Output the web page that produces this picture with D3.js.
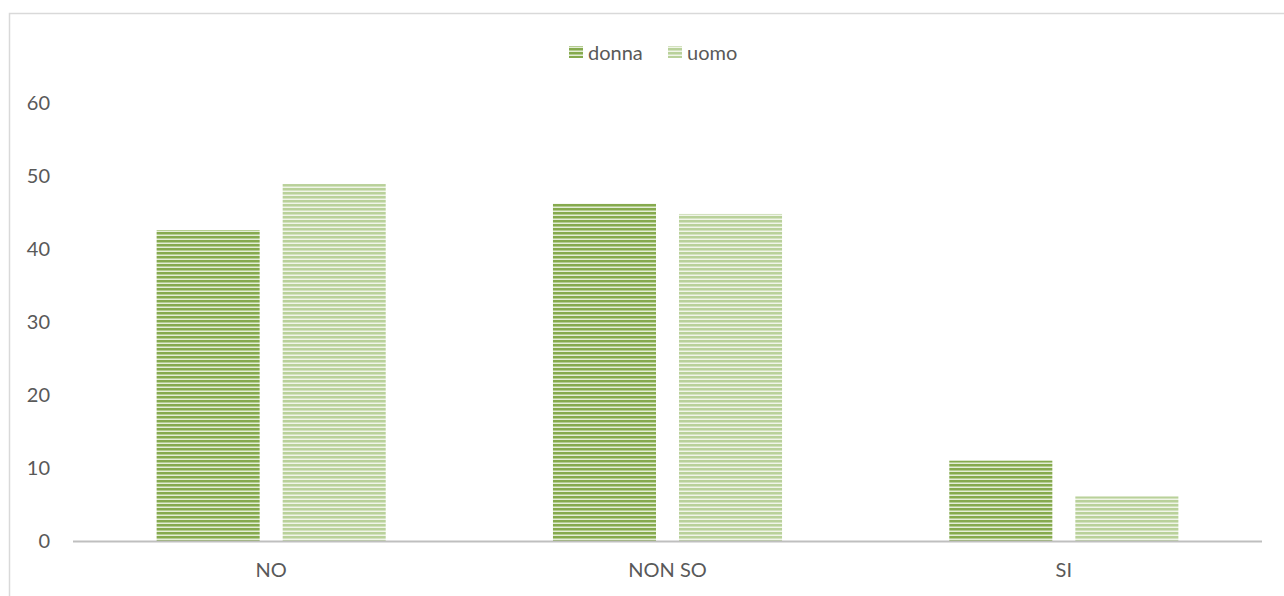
<!DOCTYPE html>
<html><head><meta charset="utf-8">
<script src="https://cdn.jsdelivr.net/npm/d3@7"></script>
<style>body{margin:0;background:#fff}svg{display:block}text{font-family:Lato,"Open Sans",sans-serif;fill:#595959}</style>
</head><body><svg id="c" width="1284" height="596"></svg>
<script>
const categories = ["NO", "NON SO", "SI"];
const seriesNames = ["donna", "uomo"];
const donna = [42.6, 46.2, 11.0];
const uomo = [48.9, 44.8, 6.1];
const yTicks = [0, 10, 20, 30, 40, 50, 60];

const svg = d3.select("#c");
const defs = svg.append("defs");
function mkPattern(id, dark, mid, light) {
  const p = defs.append("pattern").attr("id", id).attr("patternUnits", "userSpaceOnUse")
    .attr("width", 4).attr("height", 4);
  p.append("rect").attr("width", 4).attr("height", 4).attr("fill", light);
  p.append("rect").attr("y", 0).attr("width", 4).attr("height", 2).attr("fill", dark);
  p.append("rect").attr("y", 2).attr("width", 4).attr("height", 1).attr("fill", mid);
}
mkPattern("pd", "#86AA4E", "#B5CD92", "#E4EDD7");
mkPattern("pu", "#B9D19A", "#D3E2BF", "#F0F5E8");
const fills = {donna: "url(#pd)", uomo: "url(#pu)"};

svg.append("rect").attr("x", 9.5).attr("y", 13.5).attr("width", 1400).attr("height", 700)
  .attr("fill", "none").attr("stroke", "#D9D9D9").attr("stroke-width", 1.5);

const left = 73, right = 1262;
const y = d3.scaleLinear().domain([0, 60]).range([541, 103]);
const x0 = d3.scaleBand().domain(categories).range([left, right]).paddingInner(0.422).paddingOuter(0.211);
const x1 = d3.scaleBand().domain(seriesNames).range([0, x0.bandwidth()]).paddingInner(0.1825).paddingOuter(0);

const data = categories.map((c, i) => ({cat: c, vals: [{k: "donna", v: donna[i]}, {k: "uomo", v: uomo[i]}]}));
const g = svg.append("g");
g.selectAll("g.cat").data(data).join("g").attr("class", "cat")
  .attr("transform", d => `translate(${x0(d.cat)},0)`)
  .selectAll("rect").data(d => d.vals).join("rect")
  .attr("x", d => x1(d.k)).attr("width", x1.bandwidth())
  .attr("y", d => y(d.v)).attr("height", d => y(0) - y(d.v))
  .attr("fill", d => fills[d.k]);

const fs = "20px";
// y axis labels
const ya = svg.append("g").attr("transform", "translate(50,0)")
  .call(d3.axisLeft(y).tickValues(yTicks).tickSize(0).tickPadding(0));
ya.select(".domain").remove();
ya.selectAll("text").style("font-size", fs).attr("fill", "#595959");

// x axis
const xa = svg.append("g").attr("transform", "translate(0,541)")
  .call(d3.axisBottom(x0).tickSize(0).tickPadding(22));
xa.select(".domain").remove();
xa.selectAll("text").style("font-size", fs).attr("fill", "#595959");
svg.append("line").attr("x1", left).attr("x2", right).attr("y1", 541.5).attr("y2", 541.5)
  .attr("stroke", "#BFBFBF").attr("stroke-width", 2);

// legend
const leg = [{k: "donna", x: 569}, {k: "uomo", x: 668}];
const lg = svg.append("g");
leg.forEach(l => {
  lg.append("rect").attr("x", l.x).attr("y", 46).attr("width", 14).attr("height", 12).attr("fill", fills[l.k]);
  lg.append("text").attr("x", l.x + 19).attr("y", 60).style("font-size", fs).text(l.k);
});
</script></body></html>
